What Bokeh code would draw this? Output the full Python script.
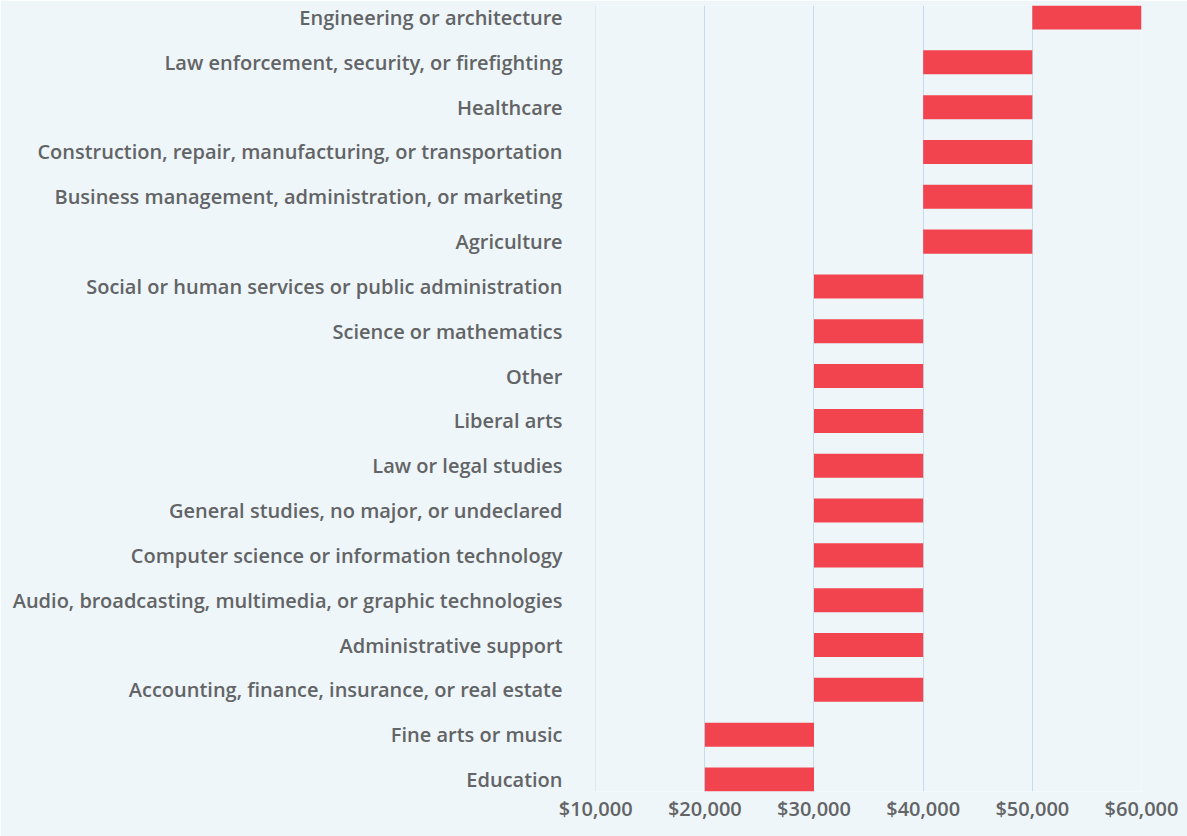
from bokeh.plotting import figure
from bokeh.models import FactorRange, Range1d, NumeralTickFormatter, FixedTicker
from bokeh.embed import file_html
from bokeh.resources import INLINE

# Data (top to bottom as in the reference)
categories = [
    "Engineering or architecture",
    "Law enforcement, security, or firefighting",
    "Healthcare",
    "Construction, repair, manufacturing, or transportation",
    "Business management, administration, or marketing",
    "Agriculture",
    "Social or human services or public administration",
    "Science or mathematics",
    "Other",
    "Liberal arts",
    "Law or legal studies",
    "General studies, no major, or undeclared",
    "Computer science or information technology",
    "Audio, broadcasting, multimedia, or graphic technologies",
    "Administrative support",
    "Accounting, finance, insurance, or real estate",
    "Fine arts or music",
    "Education",
]
range_low = [50000, 40000, 40000, 40000, 40000, 40000,
             30000, 30000, 30000, 30000, 30000, 30000, 30000, 30000, 30000, 30000,
             20000, 20000]
range_high = [60000, 50000, 50000, 50000, 50000, 50000,
              40000, 40000, 40000, 40000, 40000, 40000, 40000, 40000, 40000, 40000,
              30000, 30000]
x_ticks = [10000, 20000, 30000, 40000, 50000, 60000]

BG = "#eef6fa"
BAR = "#f2444f"
GRID = "#c4dcec"
TXT = "#636466"
FONT = "'Open Sans SemiBold', 'Open Sans'"

factors = list(reversed(categories))
y_range = FactorRange(factors=factors, range_padding=-0.232, range_padding_units="absolute")

p = figure(
    width=1187, height=836,
    y_range=y_range, x_range=Range1d(9985, 60000),
    output_backend="svg", toolbar_location=None,
    min_border_left=595, min_border_right=46, min_border_top=5, min_border_bottom=45,
)
p.background_fill_color = BG
p.border_fill_color = BG
p.outline_line_color = None

p.hbar(y=categories, left=range_low, right=range_high, height=0.536,
       fill_color=BAR, line_color=None)

p.xaxis.ticker = FixedTicker(ticks=x_ticks)
p.xaxis.formatter = NumeralTickFormatter(format="$0,0")
for ax in (p.xaxis[0], p.yaxis[0]):
    ax.axis_line_color = None
    ax.major_tick_line_color = None
    ax.minor_tick_line_color = None
    ax.major_tick_out = 0
    ax.major_tick_in = 0
    ax.major_label_text_font = FONT
    ax.major_label_text_font_style = "normal"
    ax.major_label_text_font_size = "20px"
    ax.major_label_text_color = TXT
p.xaxis.major_label_standoff = 3
p.yaxis.major_label_standoff = 33

p.xgrid.grid_line_color = GRID
p.xgrid.grid_line_width = 1
p.xgrid.ticker = FixedTicker(ticks=x_ticks)
p.ygrid.grid_line_color = None

html = file_html(p, INLINE)
html = html.replace("<body>", '<body style="background-color:%s;">' % BG, 1)
open("out.html", "w").write(html)
